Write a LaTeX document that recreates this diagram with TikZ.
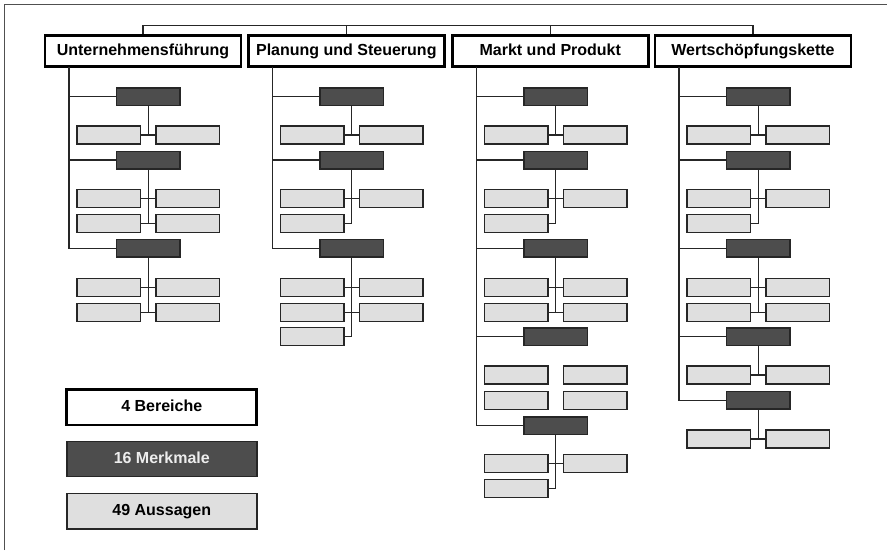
\documentclass[tikz,border=0pt]{standalone}
\usepackage{fontspec}
\setmainfont{Liberation Sans}
\definecolor{darkbox}{HTML}{4D4D4D}
\definecolor{lightbox}{HTML}{DFDFDF}
\definecolor{framec}{HTML}{505050}
\newcommand\MerkBox[3]{\node[merk] (#1) at (103.3,#2) {};\draw[conn] (#3) |- (#1.west);}
\newcommand\PairRow[2]{\node[aus] (#1l) at (63.75,#2) {};\node[aus] (#1r) at (142.75,#2) {};\draw[conn] (#1l.east) -- (#1r.west);}
\newcommand\PairRowNC[2]{\node[aus] (#1l) at (63.75,#2) {};\node[aus] (#1r) at (142.75,#2) {};}
\newcommand\LeftRow[2]{\node[aus] (#1l) at (63.75,#2) {};}
\begin{document}
\begin{tikzpicture}[x=1pt,y=-1pt,
  hdr/.style={draw=black, line width=2.8pt, fill=white, minimum width=196pt, minimum height=31pt, inner sep=0pt, text height=11.6pt, text depth=3.4pt, font=\fontsize{16}{18}\selectfont\bfseries},
  merk/.style={draw=black!85, line width=1.5pt, fill=darkbox, minimum width=63.5pt, minimum height=17.5pt, inner sep=0pt},
  aus/.style={draw=black!85, line width=1.4pt, fill=lightbox, minimum width=63.5pt, minimum height=18pt, inner sep=0pt},
  conn/.style={draw=black!85, line width=1.1pt},
  legtext/.style={text height=11.6pt, text depth=3.4pt, font=\fontsize{16}{18}\selectfont\bfseries}]
\useasboundingbox (0,0) rectangle (887,550);
% frame (top and left only)
\coordinate (fr1) at (4.7,550);
\coordinate (fr2) at (4.7,4.7);
\coordinate (fr3) at (887,4.7);
\draw[framec, line width=1.5pt] (fr1) -- (fr2) -- (fr3);

% Column A: Unternehmensfuehrung
\begin{scope}[shift={(45,0)}]
\node[hdr] (a-h) at (98,51.2) {Unternehmensführung};
\coordinate (a-t) at (24,66.7);
\MerkBox{a-m1}{96.7}{a-t}
\PairRow{a-s11}{135}
\draw[conn] (a-m1.south) -- (a-m1.south |- a-s11l.east);
\MerkBox{a-m2}{160}{a-t}
\PairRow{a-s21}{198.3}
\PairRow{a-s22}{223.3}
\draw[conn] (a-m2.south) -- (a-m2.south |- a-s22l.east);
\MerkBox{a-m3}{248.3}{a-t}
\PairRow{a-s31}{287.3}
\PairRow{a-s32}{312.3}
\draw[conn] (a-m3.south) -- (a-m3.south |- a-s32l.east);
\end{scope}

% Column B: Planung und Steuerung
\begin{scope}[shift={(248.3,0)}]
\node[hdr] (b-h) at (98,51.2) {Planung und Steuerung};
\coordinate (b-t) at (24,66.7);
\MerkBox{b-m1}{96.7}{b-t}
\PairRow{b-s11}{135}
\draw[conn] (b-m1.south) -- (b-m1.south |- b-s11l.east);
\MerkBox{b-m2}{160}{b-t}
\PairRow{b-s21}{198.3}
\LeftRow{b-s22}{223.3}
\draw[conn] (b-m2.south) |- (b-s22l.east);
\MerkBox{b-m3}{248.3}{b-t}
\PairRow{b-s31}{287.3}
\PairRow{b-s32}{312.3}
\LeftRow{b-s33}{336.7}
\draw[conn] (b-m3.south) |- (b-s33l.east);
\end{scope}

% Column C: Markt und Produkt
\begin{scope}[shift={(452.3,0)}]
\node[hdr] (c-h) at (98,51.2) {Markt und Produkt};
\coordinate (c-t) at (24,66.7);
\MerkBox{c-m1}{96.7}{c-t}
\PairRow{c-s11}{135}
\draw[conn] (c-m1.south) -- (c-m1.south |- c-s11l.east);
\MerkBox{c-m2}{160}{c-t}
\PairRow{c-s21}{198.3}
\LeftRow{c-s22}{223.3}
\draw[conn] (c-m2.south) |- (c-s22l.east);
\MerkBox{c-m3}{248.3}{c-t}
\PairRow{c-s31}{287.3}
\PairRow{c-s32}{312.3}
\draw[conn] (c-m3.south) -- (c-m3.south |- c-s32l.east);
\MerkBox{c-m4}{336.7}{c-t}
\PairRowNC{c-s41}{375}
\PairRowNC{c-s42}{400.3}
\MerkBox{c-m5}{425.7}{c-t}
\PairRow{c-s51}{463.7}
\LeftRow{c-s52}{488.3}
\draw[conn] (c-m5.south) |- (c-s52l.east);
\end{scope}

% Column D: Wertschoepfungskette
\begin{scope}[shift={(655,0)}]
\node[hdr] (d-h) at (98,51.2) {Wertschöpfungskette};
\coordinate (d-t) at (24,66.7);
\MerkBox{d-m1}{96.7}{d-t}
\PairRow{d-s11}{135}
\draw[conn] (d-m1.south) -- (d-m1.south |- d-s11l.east);
\MerkBox{d-m2}{160}{d-t}
\PairRow{d-s21}{198.3}
\LeftRow{d-s22}{223.3}
\draw[conn] (d-m2.south) |- (d-s22l.east);
\MerkBox{d-m3}{248.3}{d-t}
\PairRow{d-s31}{287.3}
\PairRow{d-s32}{312.3}
\draw[conn] (d-m3.south) -- (d-m3.south |- d-s32l.east);
\MerkBox{d-m4}{336.7}{d-t}
\PairRow{d-s41}{375}
\draw[conn] (d-m4.south) -- (d-m4.south |- d-s41l.east);
\MerkBox{d-m5}{400.3}{d-t}
\PairRow{d-s51}{439}
\draw[conn] (d-m5.south) -- (d-m5.south |- d-s51l.east);
\end{scope}

% top bus
\coordinate (bus) at (0,25.7);
\draw[conn] (a-h.north) -- (a-h.north |- bus) -- (d-h.north |- bus) -- (d-h.north);
\draw[conn] (b-h.north) -- (b-h.north |- bus);
\draw[conn] (c-h.north) -- (c-h.north |- bus);

% legend
\node[hdr, minimum width=190pt, minimum height=35.5pt] (lg1) at (161.8,407.2) {4 Bereiche};
\node[merk, minimum width=190pt, minimum height=35.3pt, text=white!93!black, legtext] (lg2) at (161.8,459) {16 Merkmale};
\node[aus, minimum width=190pt, minimum height=35.3pt, legtext] (lg3) at (161.8,511.3) {49 Aussagen};
\end{tikzpicture}
\end{document}
